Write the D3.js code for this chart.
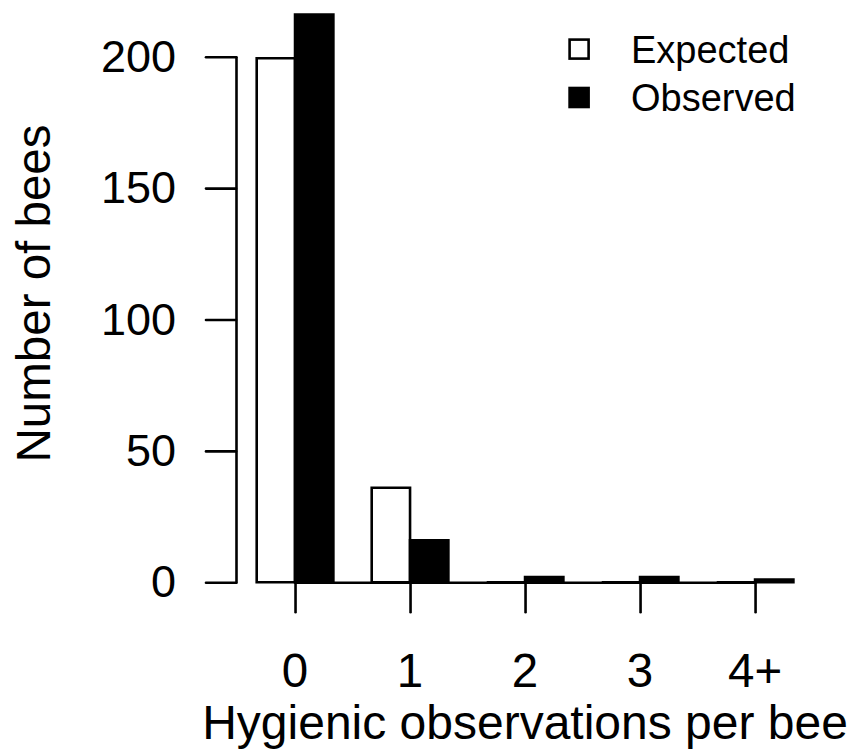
<!DOCTYPE html>
<html>
<head>
<meta charset="utf-8">
<script src="https://cdn.jsdelivr.net/npm/d3@7"></script>
<style>body{margin:0;background:#fff}</style>
</head>
<body>
<div id="chart"></div>
<script>
// values
let categories = ["0", "1", "2", "3", "4+"];
let series = ["Expected", "Observed"];
let expected = [199.4, 36, 0, 0, 0];
let observed = [216, 16, 2, 2, 1];
let yTicks = [0, 50, 100, 150, 200];
let xTitle = "Hygienic observations per bee",
    yTitle = "Number of bees";

let width = 863, height = 754;
let font = "'Liberation Sans', Arial, Helvetica, sans-serif";
let lw = 2.6;

let svg = d3.select("div#chart")
    .append("svg")
    .attr("width", width)
    .attr("height", height);

let x = d3.scaleBand()
    .domain(categories)
    .range([256.7, 793.4])
    .paddingInner(1 / 3)
    .paddingOuter(0);

let xs = d3.scaleBand()
    .domain(series)
    .range([0, x.bandwidth()]);

let y = d3.scaleLinear()
    .domain([0, 200])
    .range([582.3, 56.7]);

let fills = {Expected: "#fff", Observed: "#000"};

let rows = [];
categories.forEach(function(c, i) {
    rows.push({cat: c, s: "Expected", v: expected[i]});
    rows.push({cat: c, s: "Observed", v: observed[i]});
});

// bars as paths so zero-height bars still show as a line
svg.append("g")
    .selectAll("path")
    .data(rows)
    .enter()
    .append("path")
    .attr("d", function(d) {
        let x0 = x(d.cat) + xs(d.s), x1 = x0 + xs.bandwidth();
        return "M" + x0 + "," + y(0) + "V" + y(d.v) + "H" + x1 + "V" + y(0) + "Z";
    })
    .attr("fill", function(d) { return fills[d.s]; })
    .attr("stroke", "#000")
    .attr("stroke-width", lw);

// axes
let half = x.bandwidth() / 2;
let xp = d3.scalePoint()
    .domain(categories)
    .range([x(categories[0]) + half, x(categories[categories.length - 1]) + half]);

let gx = svg.append("g")
    .attr("transform", "translate(0," + y(0) + ")")
    .call(d3.axisBottom(xp).tickSize(30).tickSizeOuter(0).tickFormat(""));

let gy = svg.append("g")
    .attr("transform", "translate(236,0)")
    .call(d3.axisLeft(y).tickValues(yTicks).tickSize(30).tickSizeOuter(0).tickFormat(""));

[gx, gy].forEach(function(g) {
    g.selectAll("path, line")
        .attr("stroke", "#000")
        .attr("stroke-width", lw)
        .attr("stroke-linecap", "round");
});

function label(str, tx, ty, size, anchor, rot) {
    svg.append("text")
        .attr("transform", "translate(" + tx + "," + ty + ")" + (rot ? " rotate(" + rot + ")" : ""))
        .attr("text-anchor", anchor)
        .attr("font-family", font)
        .attr("font-size", size)
        .attr("fill", "#000")
        .text(str);
}

yTicks.forEach(function(v) {
    label(v, 176, y(v) + 15, 45, "end");
});

categories.forEach(function(c) {
    label(c, xp(c), 686.5, 47.5, "middle");
});

label(xTitle, 525, 739, 48, "middle");
label(yTitle, 50, 293.5, 47.5, "middle", -90);

// legend
let legend = svg.append("g");
series.forEach(function(s, i) {
    legend.append("rect")
        .attr("x", 569.6)
        .attr("y", 39.6 + i * 48.4)
        .attr("width", 19)
        .attr("height", 19)
        .attr("fill", fills[s])
        .attr("stroke", "#000")
        .attr("stroke-width", lw);
    label(s, 631, 63 + i * 48, 38, "start");
});
</script>
</body>
</html>
